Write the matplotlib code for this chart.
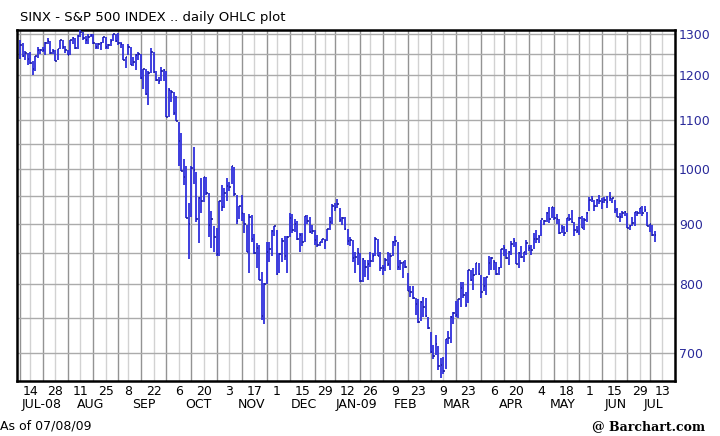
import matplotlib
matplotlib.use('Agg')
import matplotlib.pyplot as plt
import matplotlib.transforms as mtransforms
from matplotlib.ticker import FixedLocator, NullLocator
import numpy as np
import pandas as pd

# SPX daily bars, 2008-07-08 .. 2009-07-08
highs = [
    1285, 1277, 1257, 1254, 1255, 1234, 1246, 1267, 1262, 1267, 1280, 1291, 1283, 1263, 1260, 1263, 1285, 1284,  # Jul-08
    1270, 1260, 1285, 1292, 1289, 1297, 1313, 1304, 1294, 1300, 1300, 1300, 1278, 1277, 1279, 1293, 1292, 1276, 1287, 1301, 1300,  # Aug
    1303, 1280, 1275, 1244, 1274, 1268, 1243, 1250, 1255, 1250, 1214, 1214, 1211, 1265, 1255, 1211, 1197, 1220, 1215, 1210, 1171,  # Sep
    1167, 1161, 1153, 1097, 1072, 1021, 1006, 936, 1006, 1045, 995, 948, 984, 985, 985, 955, 922, 896, 893, 940, 969, 964, 984,  # Oct
    975, 1007, 1004, 951, 931, 951, 918, 897, 917, 915, 882, 866, 864, 820, 802, 868, 868, 888, 896,  # Nov
    888, 850, 875, 879, 879, 918, 917, 908, 904, 883, 884, 914, 915, 911, 897, 889, 880, 869, 874, 873, 891, 911,  # Dec
    934, 937, 944, 927, 911, 911, 890, 877, 872, 852, 858, 850, 841, 839, 839, 852, 850, 877, 874, 851,  # Jan-09
    831, 842, 851, 850, 870, 878, 869, 839, 836, 839, 818, 797, 797, 779, 778, 775, 781, 779, 751,  # Feb
    729, 711, 725, 709, 693, 695, 720, 731, 752, 758, 774, 778, 803, 803, 788, 823, 823, 826, 833, 833, 815, 811,  # Mar
    811, 845, 843, 839, 835, 828, 857, 864, 856, 853, 870, 875, 868, 851, 862, 852, 872, 864, 864, 883, 888,  # Apr
    880, 907, 907, 920, 930, 930, 929, 916, 908, 897, 896, 910, 916, 924, 903, 896, 911, 913, 909, 920,  # May
    947, 950, 942, 943, 951, 946, 947, 949, 956, 946, 942, 928, 918, 922, 922, 918, 898, 911, 921, 922, 928, 931,  # Jun
    932, 921, 899, 898, 887,  # Jul
]
lows = [
    1238, 1244, 1236, 1225, 1226, 1200, 1210, 1241, 1251, 1255, 1247, 1276, 1251, 1251, 1234, 1235, 1264, 1264,
    1254, 1247, 1249, 1276, 1264, 1262, 1292, 1285, 1275, 1276, 1292, 1275, 1263, 1263, 1261, 1278, 1264, 1263, 1271, 1282, 1280,
    1272, 1266, 1236, 1217, 1247, 1224, 1221, 1212, 1236, 1192, 1169, 1156, 1133, 1206, 1205, 1187, 1179, 1187, 1187, 1106, 1106,
    1140, 1111, 1098, 1007, 996, 970, 909, 840, 912, 972, 903, 866, 918, 938, 952, 877, 858, 852, 845, 845, 922, 928, 940,
    959, 971, 949, 900, 908, 905, 884, 852, 818, 869, 848, 826, 806, 747, 741, 801, 835, 845, 879,
    815, 817, 836, 839, 818, 876, 884, 886, 872, 852, 862, 868, 899, 884, 882, 864, 860, 861, 866, 857, 870, 889,
    899, 922, 927, 902, 897, 888, 864, 862, 836, 818, 830, 804, 804, 812, 806, 828, 835, 845, 845, 821,
    814, 821, 829, 823, 845, 862, 822, 823, 809, 825, 789, 781, 777, 754, 742, 745, 751, 751, 734,
    700, 692, 698, 677, 667, 672, 679, 713, 714, 741, 751, 749, 765, 779, 766, 772, 805, 791, 814, 815, 779, 790,
    783, 814, 822, 822, 814, 814, 826, 845, 840, 831, 847, 860, 832, 826, 842, 835, 847, 854, 847, 856, 867,
    866, 879, 897, 903, 901, 909, 907, 899, 882, 884, 878, 886, 905, 901, 879, 884, 881, 893, 888, 903,
    923, 938, 923, 929, 934, 926, 936, 927, 940, 936, 919, 911, 903, 909, 913, 893, 888, 896, 896, 913, 916, 913,
    920, 896, 886, 879, 869,
]
closes = [
    1273.7, 1244.7, 1253.4, 1239.5, 1228.3, 1214.9, 1245.4, 1260.3, 1260.7, 1260.0, 1277.0, 1282.2, 1252.5, 1257.8, 1234.4, 1263.2, 1284.3, 1267.4,
    1260.3, 1249.0, 1284.9, 1289.2, 1266.1, 1296.3, 1305.3, 1289.6, 1285.8, 1292.9, 1298.2, 1278.6, 1266.7, 1274.5, 1277.7, 1292.2, 1266.8, 1271.5, 1281.7, 1300.7, 1282.8,
    1277.6, 1275.0, 1236.8, 1242.3, 1267.8, 1224.5, 1232.0, 1249.0, 1251.7, 1192.7, 1213.6, 1156.4, 1206.5, 1255.1, 1207.1, 1188.2, 1185.9, 1209.2, 1213.3, 1106.4, 1166.4,
    1161.1, 1114.3, 1099.2, 1056.9, 996.2, 984.9, 909.9, 899.2, 1003.4, 998.0, 907.8, 946.4, 940.6, 985.4, 955.1, 896.8, 908.1, 876.8, 848.9, 940.5, 930.1, 954.1, 968.8,
    966.3, 1005.8, 952.8, 904.9, 931.0, 919.2, 899.0, 852.3, 911.3, 873.3, 850.8, 859.1, 806.6, 752.4, 800.0, 851.8, 857.4, 887.7, 896.2,
    816.2, 848.8, 870.7, 845.2, 876.1, 909.7, 888.7, 899.2, 873.6, 879.7, 868.6, 913.2, 904.4, 885.3, 887.9, 871.6, 863.2, 868.2, 872.8, 869.4, 890.6, 903.3,
    931.8, 927.5, 934.7, 906.7, 909.7, 890.4, 870.3, 871.8, 842.6, 843.7, 850.1, 805.2, 840.2, 827.5, 832.0, 836.6, 845.7, 874.1, 845.1, 825.9,
    825.4, 838.5, 832.2, 845.9, 868.6, 869.9, 827.2, 833.7, 835.2, 826.8, 789.2, 788.4, 778.9, 770.1, 743.3, 773.1, 764.9, 752.8, 735.1,
    700.8, 696.3, 712.9, 682.6, 683.4, 676.5, 719.6, 721.4, 750.7, 756.6, 753.9, 778.1, 794.4, 784.0, 768.5, 822.9, 806.1, 813.9, 832.9, 815.9, 787.5, 797.9,
    811.1, 834.4, 842.5, 835.5, 815.6, 825.2, 856.6, 858.7, 841.5, 852.1, 865.3, 869.6, 832.4, 850.1, 843.6, 851.9, 866.2, 857.5, 855.2, 873.6, 872.8,
    877.5, 907.2, 903.8, 919.5, 907.4, 929.2, 909.2, 908.4, 883.9, 893.1, 882.9, 909.7, 908.1, 903.5, 888.3, 887.0, 910.3, 893.1, 906.8, 919.1,
    942.9, 944.7, 931.8, 942.5, 940.1, 939.1, 942.4, 939.2, 944.9, 946.2, 923.7, 912.0, 910.7, 918.4, 921.2, 893.0, 895.1, 900.9, 920.3, 918.9, 927.2, 919.3,
    923.3, 896.4, 898.7, 881.0, 879.6,
]

holidays = ['2008-09-01', '2008-11-27', '2008-12-25', '2009-01-01', '2009-01-19',
            '2009-02-16', '2009-04-10', '2009-05-25', '2009-07-03']
label_dates = ['2008-07-14', '2008-07-28', '2008-08-11', '2008-08-25', '2008-09-08', '2008-09-22',
               '2008-10-06', '2008-10-20', '2008-11-03', '2008-11-17', '2008-12-01', '2008-12-15',
               '2008-12-29', '2009-01-12', '2009-01-26', '2009-02-09', '2009-02-23', '2009-03-09',
               '2009-03-23', '2009-04-06', '2009-04-20', '2009-05-04', '2009-05-18', '2009-06-01',
               '2009-06-15', '2009-06-29', '2009-07-13']
month_names = ['JUL-08', 'AUG', 'SEP', 'OCT', 'NOV', 'DEC', 'JAN-09', 'FEB', 'MAR', 'APR', 'MAY', 'JUN', 'JUL']
price_ticks = [700, 800, 900, 1000, 1100, 1200, 1300]
price_grid = [700, 750, 800, 850, 900, 950, 1000, 1050, 1100, 1150, 1200, 1250, 1300]

# trading-day axis (extends a few sessions past the last bar)
days = pd.bdate_range('2008-07-08', '2009-07-13', freq='C', holidays=holidays)
pos = np.arange(len(days))
x = np.arange(len(closes))
label_pos = days.get_indexer(pd.to_datetime(label_dates))
week_key = days.to_period('W')
week_start = pos[np.r_[True, week_key[1:] != week_key[:-1]]]
other_weeks = [p for p in week_start if p not in set(label_pos)]
mkey = days.to_period('M')
month_mid = [pos[mkey == m].mean() for m in mkey.unique()]

bar_col = '#2f2fdc'

fig = plt.figure(figsize=(7.2, 4.36), dpi=100)
ax = fig.add_axes([0.0236, 0.126, 0.9139, 0.805])

ax.set_yscale('log')
ax.set_xlim(-1.2, 260)
ax.set_ylim(663, 1310)

for p in label_pos:
    ax.axvline(p, color='#d2d2d2', lw=1.0, zorder=0)
for p in other_weeks:
    ax.axvline(p, color='#939393', lw=1.0, zorder=0)
for v in price_grid:
    ax.axhline(v, color='#ababab', lw=1.0, zorder=0)

ax.vlines(x, lows, highs, color=bar_col, lw=1.3, zorder=3)
ax.hlines(closes, x, x + 0.6, color='#1c1ca0', lw=1.2, zorder=4)

ax.yaxis.tick_right()
ax.yaxis.set_major_locator(FixedLocator(price_ticks))
ax.yaxis.set_minor_locator(NullLocator())
ax.set_yticklabels([str(v) for v in price_ticks])
ax.tick_params(axis='y', length=0, pad=3, labelsize=9, labelcolor='#2a2a9a')

ax.set_xticks(label_pos)
ax.set_xticklabels([str(d.day) for d in pd.to_datetime(label_dates)])
ax.xaxis.set_minor_locator(NullLocator())
ax.tick_params(axis='x', length=0, pad=3, labelsize=9, labelcolor='black')

trans = mtransforms.blended_transform_factory(ax.transData, ax.transAxes)
for name, m in zip(month_names, month_mid):
    ax.text(m, -0.068, name, transform=trans, ha='center', va='center', fontsize=9)

for s in ax.spines.values():
    s.set_linewidth(1.8)
    s.set_color('black')

fig.text(0.028, 0.945, 'SINX - S&P 500 INDEX .. daily OHLC plot', fontsize=9.5, ha='left', va='bottom')
fig.text(0.0, 0.022, 'As of 07/08/09', fontsize=9, ha='left', va='center')
fig.text(0.98, 0.022, '@ Barchart.com', fontsize=9, ha='right', va='center',
         family='DejaVu Serif', weight='bold')

fig.savefig('out.png', dpi=100)
